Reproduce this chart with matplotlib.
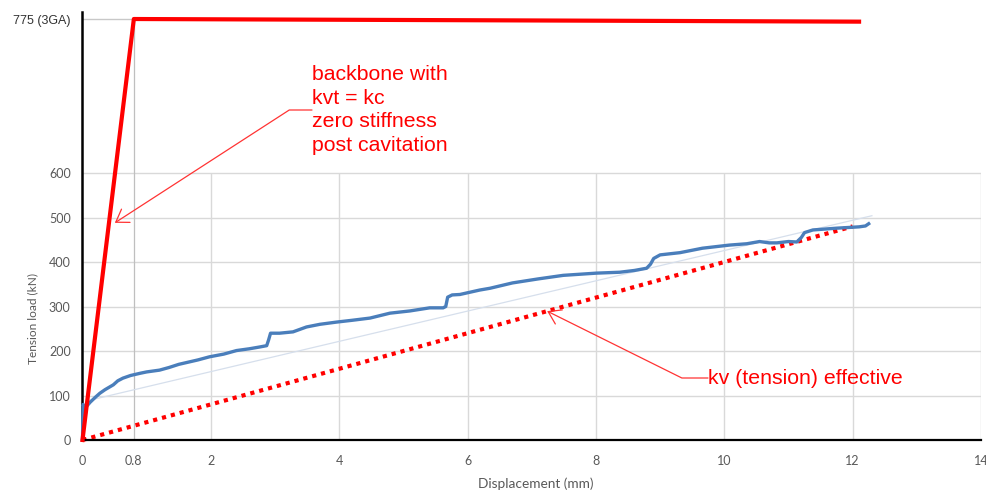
import numpy as np
import matplotlib.pyplot as plt

plt.rcParams['font.family'] = ['Lato', 'DejaVu Sans']

# measured tension test (blue trace)
disp_mm = [0.0, 0.005, 0.01, 0.03, 0.06, 0.12, 0.2, 0.27, 0.35, 0.48, 0.55, 0.63,
           0.75, 0.9, 1.0, 1.2, 1.35, 1.5, 1.65, 1.8, 1.98, 2.2, 2.4, 2.6, 2.76,
           2.87, 2.9, 2.93, 3.07, 3.28, 3.49, 3.7, 3.96, 4.2, 4.48, 4.79, 5.1,
           5.41, 5.62, 5.66, 5.69, 5.76, 5.88, 6.19, 6.35, 6.7, 7.1, 7.49, 8.01,
           8.37, 8.6, 8.79, 8.85, 8.9, 9.0, 9.31, 9.66, 10.08, 10.35, 10.55,
           10.7, 10.82, 11.0, 11.13, 11.2, 11.25, 11.38, 11.75, 12.1, 12.2, 12.25]
load_kn = [0, 45, 80, 72, 75, 85, 96, 105, 113, 124, 133, 139,
           145, 150, 153, 157, 163, 170, 175, 180, 187, 193, 201, 205, 209,
           212, 225, 240, 240, 243, 254, 260, 265, 269, 274, 285, 290,
           297, 297, 300, 321, 326, 327, 337, 341, 353, 362, 370, 375,
           377, 381, 386, 395, 408, 416, 421, 431, 438, 441, 446,
           443, 443, 446, 445, 455, 466, 472, 476, 479, 481, 486]

# linear trend through the test data
trend_x = [0.1, 12.3]
trend_y = [89, 504]

# effective tension stiffness kv
kv_x = [0, 12]
kv_y = [0, 480]

# backbone: kvt = kc up to cavitation, then zero stiffness
cav_disp = 0.8
cav_load = 775
backbone_x = [0, cav_disp, 12.1]
backbone_y = [0, cav_load, 772]

x_ticks = [0, 0.8, 2, 4, 6, 8, 10, 12, 14]
x_tick_labels = ['0', '0.8', '2', '4', '6', '8', '10', '12', '14']
y_ticks = [0, 100, 200, 300, 400, 500, 600]
y_tick_labels = ['0', '100', '200', '300', '400', '500', '600']
cav_label = '775 (3GA)'

# the band above 600 kN is drawn stretched
K = 1.9775


def fwd(y):
    y = np.asarray(y, dtype=float)
    return np.where(y <= 600, y, 600 + (y - 600) * K)


def inv(v):
    v = np.asarray(v, dtype=float)
    return np.where(v <= 600, v, 600 + (v - 600) / K)


fig = plt.figure(figsize=(9.87, 4.92), dpi=100)
ax = fig.add_axes([82.5 / 987, 52 / 492, 898.5 / 987, 440 / 492])
ax.set_yscale('function', functions=(fwd, inv))
ax.set_xlim(0, 14)
ax.set_ylim(0, 796.6)

grid_c = '#d9d9d9'
ax.hlines(y_ticks[1:], 0, 14, color=grid_c, lw=1.0, zorder=0)
ax.vlines(x_ticks[2:], 0, 600, color=grid_c, lw=1.0, zorder=0)
ax.vlines(cav_disp, 0, cav_load, color='#bfbfbf', lw=0.9, zorder=0)
ax.hlines(cav_load, 0, cav_disp, color='#c8c8c8', lw=1.0, zorder=0)

ax.plot(trend_x, trend_y, color='#d6dfec', lw=0.9, zorder=1)
ax.plot(kv_x, kv_y, color='#ff0000', lw=3, linestyle=(0, (1, 1.2)),
        zorder=2, clip_on=False)
ax.plot(disp_mm, load_kn, color='#4a7ebb', lw=2.4, zorder=3, clip_on=False)
ax.plot(backbone_x, backbone_y, color='#ff0000', lw=3, zorder=4, clip_on=False)

for side in ('top', 'right'):
    ax.spines[side].set_visible(False)
ax.spines['left'].set_bounds(0, 783)
ax.spines['left'].set_linewidth(1.8)
ax.spines['bottom'].set_linewidth(1.6)
ax.spines['left'].set_color('black')
ax.spines['bottom'].set_color('black')

ax.set_xticks(x_ticks, x_tick_labels)
ax.set_yticks(y_ticks + [cav_load], y_tick_labels + [cav_label])
ax.tick_params(length=0, labelsize=9, labelcolor='#595959')
ax.tick_params(axis='x', pad=10.5)
ax.tick_params(axis='y', pad=8.5)
top_lbl = ax.get_yticklabels()[-1]
top_lbl.set_fontfamily(['Liberation Sans', 'DejaVu Sans'])
top_lbl.set_color('#333333')
top_lbl.set_fontsize(9)

ax.set_xlabel('Displacement (mm)', fontsize=9.8, color='#595959')
ax.xaxis.set_label_coords(0.505, -0.086)
ax.set_ylabel('Tension load (kN)', fontsize=8.6, color='#595959')
ax.yaxis.set_label_coords(-0.0495, 0.277)

note_font = dict(family=['Liberation Sans', 'DejaVu Sans'], size=15.3, color='#ff0000')
head = '->,head_length=0.56,head_width=0.37'
tip_load = 488
ax.annotate('backbone with\nkvt = kc\nzero stiffness\npost cavitation',
            xy=(cav_disp * tip_load / cav_load, tip_load), xycoords='data',
            xytext=(312, 382), textcoords='figure pixels',
            ha='left', va='center', linespacing=1.33, **note_font,
            arrowprops=dict(arrowstyle=head, color='#ff3333', lw=0.9,
                            connectionstyle='angle,angleA=0,angleB=32.9,rad=0',
                            relpos=(0, 0.5), shrinkA=0, shrinkB=0, patchA=None))
tip_x = 7.24
ax.annotate('kv (tension) effective',
            xy=(tip_x, kv_y[1] / kv_x[1] * tip_x), xycoords='data',
            xytext=(708, 114), textcoords='figure pixels',
            ha='left', va='center', **note_font,
            arrowprops=dict(arrowstyle=head, color='#ff3333', lw=0.9,
                            connectionstyle='angle,angleA=0,angleB=-26.4,rad=0',
                            relpos=(0, 0.5), shrinkA=0, shrinkB=0, patchA=None))

fig.savefig('out.png', dpi=100)
